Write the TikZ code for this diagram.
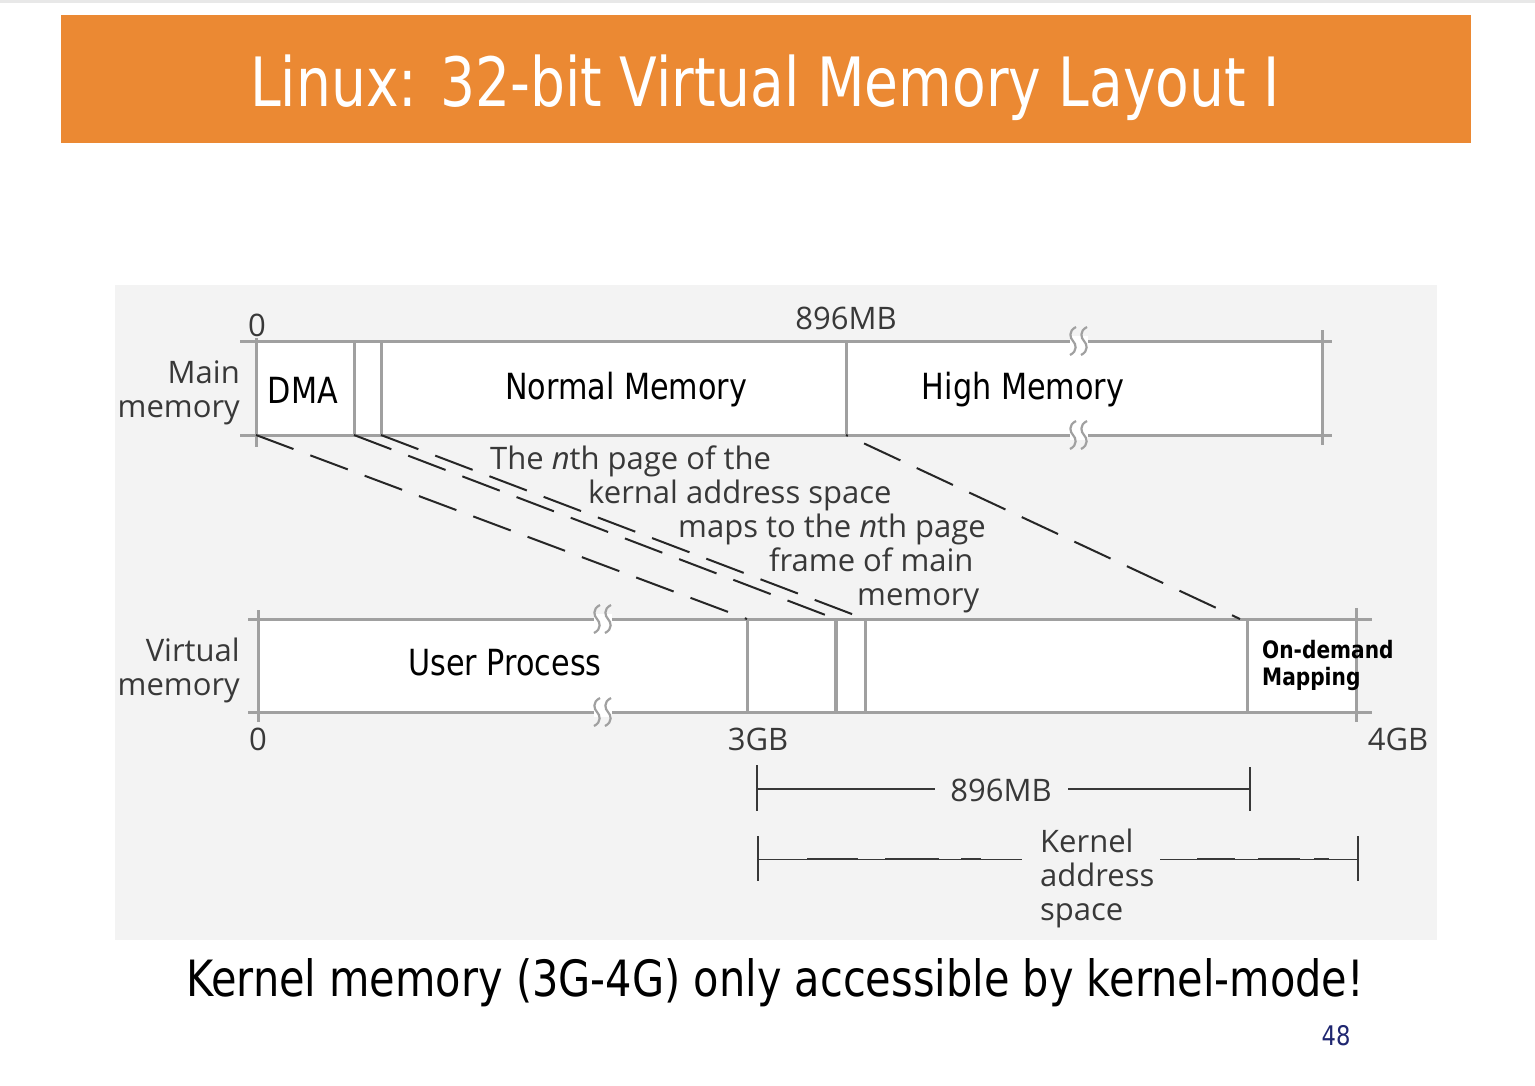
\documentclass[tikz,border=0pt]{standalone}
\usepackage{fontspec}
\newfontfamily\tah{DejaVu Sans}
\newfontfamily\fru{Open Sans}
\definecolor{orangebar}{HTML}{EB8933}
\definecolor{bargray}{HTML}{A0A0A0}
\definecolor{txtgray}{HTML}{383838}
\definecolor{imgbg}{HTML}{F3F3F3}
\definecolor{navy}{HTML}{1F2670}
\newcommand{\tx}[2][0.84]{\scalebox{#1}[1]{#2}}
\begin{document}
\begin{tikzpicture}[x=1pt,y=-1pt,
  bar/.style={draw=bargray, line width=3pt},
  divider/.style={draw=bargray, line width=3pt},
  dsh/.style={draw=black!85, line width=2pt, dash pattern=on 40pt off 18pt},
  lbl/.style={text=txtgray, font=\fru\fontsize{31}{34}\selectfont, inner sep=0pt},
  boxlbl/.style={text=black, font=\tah\fontsize{36}{40}\selectfont, inner sep=0pt},
  tick/.style={draw=txtgray, line width=2pt},
  brkmark/.pic={
    \fill[white] (-9,-5) rectangle (9,5);
    \draw[bargray, line width=2.2pt] (-3,-14) .. controls (-11,-10) and (-9,-3) .. (-6,0) .. controls (-3,3) and (-1,10) .. (-9,14);
    \draw[bargray, line width=2.2pt] (8,-14) .. controls (0,-10) and (2,-3) .. (5,0) .. controls (8,3) and (10,10) .. (2,14);
  }]
\useasboundingbox (0,0) rectangle (1535,1085);
\fill[white] (0,0) rectangle (1535,1085);
\fill[gray!18] (0,0) rectangle (1535,3);
% title bar
\fill[orangebar] (61,15) rectangle (1471,143);
\node[text=white, font=\tah\fontsize{68}{80}\selectfont, inner sep=0pt] (title) at (765,88) {\tx[0.81]{Linux: 32-bit Virtual Memory Layout I}};
% image area
\fill[imgbg] (115,285) rectangle (1437,940);
\fill[white] (256,341) rectangle (1322,435);
\fill[white] (258,619) rectangle (1356,712);
% main memory bar
\draw[bar] (240,341) -- (1332,341);
\draw[bar] (240,435) -- (1332,435);
\draw[divider] (256,338) -- (256,447);
\draw[divider] (354,341) -- (354,435);
\draw[divider] (381,341) -- (381,435);
\draw[divider] (846,341) -- (846,435);
\draw[divider] (1322,330) -- (1322,445);
\pic at (1079,341) {brkmark};
\pic at (1079,435) {brkmark};
% virtual memory bar
\draw[bar] (248,619) -- (1372,619);
\draw[bar] (248,712) -- (1372,712);
\draw[divider] (258,610) -- (258,722);
\draw[divider] (747,619) -- (747,712);
\draw[divider, line width=3.6pt] (836,619) -- (836,712);
\draw[divider] (865,619) -- (865,712);
\draw[divider] (1247,619) -- (1247,712);
\draw[divider] (1356,608) -- (1356,722);
\pic at (603,619) {brkmark};
\pic at (603,712) {brkmark};
% mapping coordinates
\coordinate (mA) at (256,435);
\coordinate (mB) at (354,435);
\coordinate (mC) at (381,435);
\coordinate (mD) at (846,435);
\coordinate (vA) at (747,619);
\coordinate (vB) at (836,619);
\coordinate (vC) at (865,619);
\coordinate (vD) at (1240,619);
\draw[dsh] (mA) -- (vA);
\draw[dsh] (mB) -- (vB);
\draw[dsh] (mC) -- (vC);
\draw[dsh, dash phase=-20pt] (mD) -- (vD);
% labels main
\node[lbl] (zeroM) at (257,325) {0};
\node[lbl] (mbM) at (846,318) {896MB};
\node[lbl, anchor=east, align=right] (mainlbl) at (240,393) {Main\\memory};
\node[boxlbl] (dma) at (303,390) {\tx{DMA}};
\node[boxlbl] (normal) at (626,390) {\tx{Normal Memory}};
\node[boxlbl] (high) at (1023,390) {\tx{High Memory}};
% labels virtual
\node[lbl, anchor=east, align=right] (virtlbl) at (240,670) {Virtual\\memory};
\node[boxlbl] (user) at (505,663) {\tx{User Process}};
\node[text=black, font=\tah\bfseries\fontsize{24}{27}\selectfont, inner sep=0pt, anchor=west, align=left] (ondemand) at (1262,665) {\tx{On-demand}\\\tx{Mapping}};
\node[lbl] (zeroV) at (258,739) {0};
\node[lbl] (gb3) at (758,739) {3GB};
\node[lbl] (gb4) at (1398,739) {4GB};
% nth page text
\node[lbl, anchor=base west] (t1) at (490,469) {The {\itshape n}th page of the};
\node[lbl, anchor=base west] (t2) at (588,503) {kernal address space};
\node[lbl, anchor=base west] (t3) at (678,537) {maps to the {\itshape n}th page};
\node[lbl, anchor=base west] (t4) at (769,571) {frame of main};
\node[lbl, anchor=base west] (t5) at (857,605) {memory};
% 896MB bracket
\coordinate (b1L) at (757,789);
\coordinate (b1R) at (1250,789);
\draw[tick] (757,765) -- (757,811);
\draw[tick] (1250,767) -- (1250,811);
\node[lbl] (mb2) at (1001,790) {896MB};
\draw[tick] (b1L) -- (935,789);
\draw[tick] (1068,789) -- (b1R);
% kernel address space bracket
\draw[tick] (758,836) -- (758,881);
\draw[tick] (1358,836) -- (1358,881);
\node[lbl, anchor=west, align=left] (kas) at (1040,878) {Kernel\\address\\space};
\draw[draw=txtgray, line width=1pt] (758,859) -- (1022,859);
\draw[draw=txtgray, line width=1pt] (1160,859) -- (1358,859);
\draw[draw=txtgray, line width=2.6pt, dash pattern=on 0pt off 49pt on 51pt off 27pt on 54pt off 22pt on 20pt off 60pt] (758,859) -- (1022,859);
\draw[draw=txtgray, line width=2.6pt, dash pattern=on 0pt off 37pt on 38pt off 23pt on 42pt off 14pt on 15pt off 60pt] (1160,859) -- (1358,859);
% bottom text
\node[text=black, font=\tah\fontsize{50}{60}\selectfont, inner sep=0pt] (bottom) at (775,983) {\tx[0.83]{Kernel memory (3G-4G) only accessible by kernel-mode!}};
\node[text=navy, font=\tah\fontsize{27}{30}\selectfont, inner sep=0pt] (pagenum) at (1336,1036) {\tx{48}};
\end{tikzpicture}
\end{document}
